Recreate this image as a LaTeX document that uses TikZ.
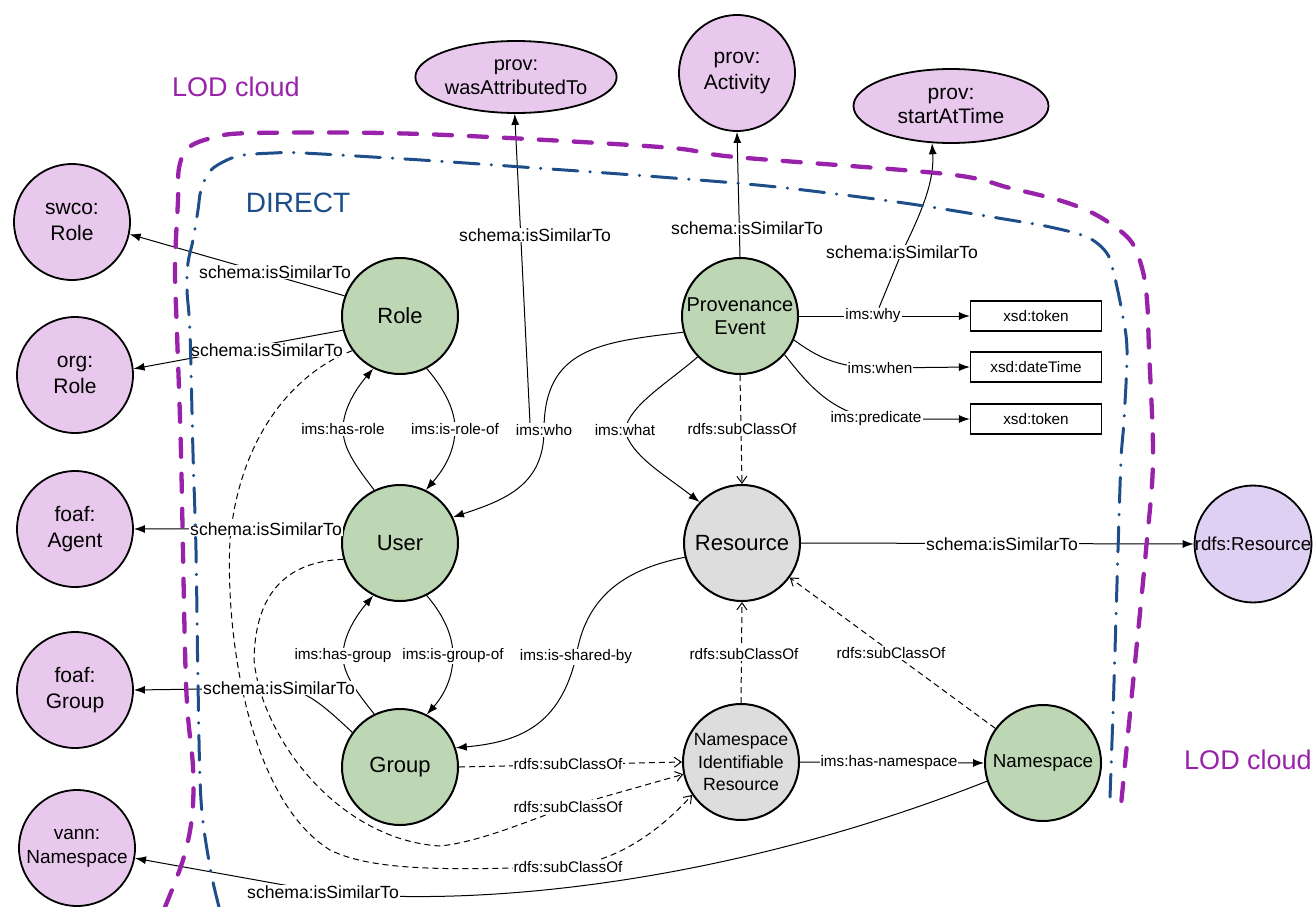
\documentclass[tikz,border=0pt]{standalone}
\usepackage{fontspec}
\setmainfont{Liberation Sans}
\usetikzlibrary{arrows.meta,shapes.geometric}
\definecolor{lodfill}{RGB}{232,200,236}
\definecolor{rdfsfill}{RGB}{222,208,242}
\definecolor{grn}{RGB}{189,215,181}
\definecolor{gry}{RGB}{221,221,221}
\definecolor{lodline}{RGB}{153,34,170}
\definecolor{dirline}{RGB}{29,78,138}
\pgfdeclarelayer{edges}
\pgfdeclarelayer{top}
\pgfsetlayers{edges,main,top}
\begin{document}
\begin{tikzpicture}[x=1pt,y=-1pt,
  ext/.style={circle, draw, line width=1.8pt, fill=lodfill, minimum size=116pt, inner sep=0pt, align=center, font=\fontsize{21}{26}\selectfont},
  cls/.style={circle, draw, line width=2pt, fill=grn, minimum size=116pt, inner sep=0pt, align=center, font=\fontsize{22}{26}\selectfont},
  gcls/.style={cls, fill=gry},
  topell/.style={ellipse, draw, line width=1.8pt, fill=lodfill, inner sep=0pt, align=center, font=\fontsize{20}{24}\selectfont},
  dtype/.style={rectangle, draw, line width=1.2pt, minimum width=131pt, minimum height=30pt, inner sep=0pt, font=\fontsize{15.3}{18}\selectfont},
  lbl/.style={fill=white, inner sep=1pt, font=\fontsize{17.6}{20}\selectfont},
  slbl/.style={fill=white, inner sep=1pt, font=\fontsize{15.3}{18}\selectfont},
  relarrow/.style={line width=1pt, -{Latex[length=11pt,width=8pt]}},
  subarrow/.style={line width=1pt, dash pattern=on 6pt off 4pt, -{Straight Barb[length=7pt,width=10pt]}},
  lodbound/.style={line width=4.3pt, lodline, line cap=round, dash pattern=on 18pt off 17pt},
  dirbound/.style={line width=3pt, dirline, line cap=round, dash pattern=on 25pt off 12pt on 0.5pt off 12pt},
]
\useasboundingbox (0,0) rectangle (1314,907);

% external (LOD) nodes
\node[ext] (swco) at (72,222) {swco:\\Role};
\node[ext] (orgrole) at (75,375) {org:\\Role};
\node[ext] (agent) at (75,529) {foaf:\\Agent};
\node[ext] (fgroup) at (75,690) {foaf:\\Group};
\node[ext, font=\fontsize{19}{24}\selectfont] (vann) at (77,848) {vann:\\Namespace};
\node[topell, minimum width=194pt, minimum height=72pt] (wat) at (516,77) {prov:\\wasAttributedTo};
\node[ext] (activity) at (737,73) {prov:\\Activity};
\node[topell, minimum width=195pt, minimum height=74pt, font=\fontsize{21}{24}\selectfont] (sat) at (951,106) {prov:\\startAtTime};
\node[ext, fill=rdfsfill, font=\fontsize{18.7}{22}\selectfont] (rres) at (1253,544) {rdfs:Resource};

% DIRECT classes
\node[cls] (role) at (400,316) {Role};
\node[cls] (user) at (400,543) {User};
\node[cls] (group) at (400,767) {Group};
\node[cls, font=\fontsize{20}{23}\selectfont] (pe) at (740,316) {Provenance\\Event};
\node[gcls] (resource) at (742,543) {Resource};
\node[gcls, font=\fontsize{17.7}{22.5}\selectfont] (nir) at (741,762) {Namespace\\Identifiable\\Resource};
\node[cls, font=\fontsize{18.8}{22}\selectfont] (ns) at (1043,763) {Namespace};

% datatypes
\node[dtype] (tok1) at (1036,316) {xsd:token};
\node[dtype] (dt) at (1036,367) {xsd:dateTime};
\node[dtype] (tok2) at (1036,419) {xsd:token};

% edge labels
\node[lbl] (L1) at (275,272) {schema:isSimilarTo};
\node[lbl] (L2) at (267,350) {schema:isSimilarTo};
\node[lbl] (L3) at (266,529) {schema:isSimilarTo};
\node[lbl] (L4) at (279,688) {schema:isSimilarTo};
\node[lbl] (L5) at (323,892) {schema:isSimilarTo};
\node[lbl] (L6) at (1002,544) {schema:isSimilarTo};
\node[lbl] (L7) at (747,228) {schema:isSimilarTo};
\node[lbl] (L8) at (902,252) {schema:isSimilarTo};
\node[lbl] (L9) at (535,235) {schema:isSimilarTo};
\node[slbl] (Lwhy) at (873,316) {ims:why};
\node[slbl] (Lwhen) at (880,368) {ims:when};
\node[slbl] (Lpred) at (876,419) {ims:predicate};
\node[slbl] (Lwho) at (544,430) {ims:who};
\node[slbl] (Lwhat) at (625,430) {ims:what};
\node[slbl] (LsubPE) at (742,429) {rdfs:subClassOf};
\node[slbl] (Lhasrole) at (343,429) {ims:has-role};
\node[slbl] (Lisroleof) at (455,429) {ims:is-role-of};
\node[slbl] (Lhasgroup) at (343,656) {ims:has-group};
\node[slbl] (Lisgroupof) at (453,656) {ims:is-group-of};
\node[slbl] (Lshared) at (576,657) {ims:is-shared-by};
\node[slbl] (LsubNIR) at (744,654) {rdfs:subClassOf};
\node[slbl] (LsubNS) at (891,653) {rdfs:subClassOf};
\node[slbl] (Lhasns) at (889,763) {ims:has-namespace};
\node[slbl] (LsubG) at (568,764) {rdfs:subClassOf};
\node[slbl] (LsubU) at (568,807) {rdfs:subClassOf};
\node[slbl] (LsubR) at (568,867) {rdfs:subClassOf};

\begin{pgfonlayer}{edges}
\draw[relarrow] (role.160) -- (swco.348);
\draw[relarrow] (role.194) -- (orgrole.6);
\draw[relarrow] (user.166) -- (agent.east);
\draw[relarrow] (group.144) .. controls (325,707) and (305,688) .. (L4.center) -- (fgroup.east);
\draw[relarrow] (ns.198) .. controls (750,875) and (500,910) .. (L5.center) -- (vann.350);
\draw[relarrow] (resource.east) -- (rres.west);
\draw[relarrow] (pe.north) -- (activity.south);
\draw[relarrow] ([xshift=6pt]Lwhy.north) -- (L8.center) .. controls (928,200) and (934,175) .. (sat.243);
\draw[relarrow] ([xshift=-14pt]Lwho.north) -- (wat.268);
\draw[relarrow] (pe.196) .. controls (600,342) and (544,348) .. (Lwho.center) .. controls (544,485) and (505,500) .. (user.26);
\draw[relarrow] (pe.224) .. controls (665,385) and (630,405) .. (Lwhat.center) .. controls (630,455) and (665,475) .. (resource.136);
\draw[subarrow] (pe.south) -- (resource.north);
\draw[relarrow] (pe.east) -- (tok1.west);
\draw[relarrow] (pe.336) .. controls (815,355) and (835,368) .. (Lwhen.center) -- (dt.west);
\draw[relarrow] (pe.319) .. controls (805,380) and (828,412) .. (Lpred.center) -- (tok2.west);
\draw[relarrow] (user.116) .. controls (355,465) and (343,448) .. (Lhasrole.center) .. controls (343,410) and (355,390) .. (role.243);
\draw[relarrow] (role.297) .. controls (445,390) and (455,410) .. (Lisroleof.center) .. controls (455,450) and (445,468) .. (user.64);
\draw[relarrow] (group.116) .. controls (355,690) and (343,673) .. (Lhasgroup.center) .. controls (343,637) and (355,617) .. (user.243);
\draw[relarrow] (user.297) .. controls (445,617) and (453,637) .. (Lisgroupof.center) .. controls (453,676) and (445,694) .. (group.63);
\draw[relarrow] (resource.194) .. controls (620,570) and (585,600) .. (Lshared.center) .. controls (560,725) and (520,742) .. (group.19);
\draw[subarrow] (nir.north) -- (resource.south);
\draw[subarrow] (ns.144) -- (resource.324);
\draw[relarrow] (nir.east) -- (ns.west);
\draw[subarrow] (group.east) -- (nir.west);
\draw[subarrow] (user.196) .. controls (280,562) and (255,600) .. (254,660) .. controls (262,740) and (340,840) .. (440,846) .. controls (480,842) and (530,820) .. (LsubU.center) -- (nir.192);
\draw[subarrow] (role.216) .. controls (300,370) and (240,430) .. (230,540) .. controls (225,640) and (250,800) .. (330,850) .. controls (380,875) and (480,868) .. (LsubR.center) .. controls (620,860) and (660,830) .. (nir.214);
\end{pgfonlayer}

% region labels
\node[text=lodline, font=\fontsize{27}{30}\selectfont] (lod1) at (236,87) {LOD cloud};
\node[text=lodline, font=\fontsize{27}{30}\selectfont] (lod2) at (1248,760) {LOD cloud};
\node[text=dirline, font=\fontsize{28}{30}\selectfont] (direct) at (298,203) {DIRECT};

\begin{pgfonlayer}{top}
\draw[lodbound] plot[smooth, tension=0.55] coordinates {(165,907) (183,860) (192,817) (193,767) (186,683) (181,453) (177,333) (175,267) (178,200) (179,168) (188,148) (212,138) (253,133) (421,134) (660,147) (735,157) (946,174) (1010,188) (1065,202) (1100,217) (1130,240) (1142,268) (1147,300) (1149,350) (1153,460) (1146,550) (1133,683) (1121,805)};
\draw[dirbound] plot[smooth, tension=0.55] coordinates {(219,907) (210,867) (201,800) (198,683) (196,550) (193,453) (190,333) (187,290) (188,263) (193,240) (198,210) (201,190) (210,171) (227,160) (244,155) (274,153) (303,153) (421,160) (522,167) (660,177) (777,187) (904,203) (1010,220) (1050,227) (1087,237) (1106,252) (1113,270) (1122,312) (1127,350) (1124,420) (1121,460) (1118,550) (1114,683) (1110,797)};
\end{pgfonlayer}
\end{tikzpicture}
\end{document}
